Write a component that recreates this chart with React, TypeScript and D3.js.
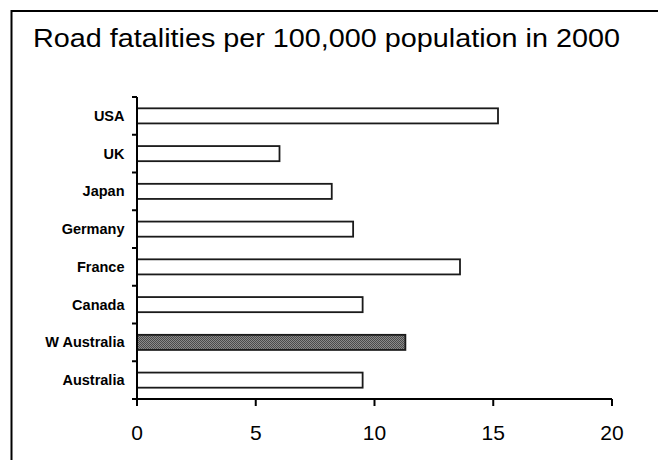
import React from "react";
import * as d3 from "d3";

const categories = ["USA", "UK", "Japan", "Germany", "France", "Canada", "W Australia", "Australia"];
const values = [15.2, 6.0, 8.2, 9.1, 13.6, 9.5, 11.3, 9.5];
const highlighted = ["W Australia"];
const xTicks = [0, 5, 10, 15, 20];
const title = "Road fatalities per 100,000 population in 2000";

const W = 658;
const H = 460;
const left = 137;
const right = 612;
const top = 97;
const bottom = 399;

export default function App() {
  const x = d3.scaleLinear().domain([0, 20]).range([left, right]);
  const y = d3.scaleBand<string>().domain(categories).range([top, bottom]).paddingInner(0.6).paddingOuter(0.3);
  const bandStep = (bottom - top) / categories.length;
  const catTicks = d3.range(categories.length + 1).map((i) => top + i * bandStep);

  return (
    <svg width={W} height={H} style={{ position: "fixed", left: 0, top: 0, background: "#fff" }}
      fontFamily="Arial, 'Liberation Sans', sans-serif">
      <defs>
        <pattern id="dots" width="2" height="2" patternUnits="userSpaceOnUse">
          <rect width="2" height="2" fill="#8a8a8a" />
          <rect width="1" height="1" fill="#4a4a4a" />
          <rect x="1" y="1" width="1" height="1" fill="#4a4a4a" />
        </pattern>
      </defs>
      <rect x={0} y={0} width={W} height={H} fill="#fff" />
      <path d={`M11.5,${H} V11 H${W}`} fill="none" stroke="#000" strokeWidth={2} />
      <text x={33} y={47} fontSize={26} fill="#000" textLength={587} lengthAdjust="spacingAndGlyphs">{title}</text>

      {categories.map((c, i) => (
        <rect key={c} x={x(0)} y={y(c)!} width={x(values[i]) - x(0)} height={y.bandwidth()}
          fill={highlighted.includes(c) ? "url(#dots)" : "#fff"} stroke="#1a1a1a" strokeWidth={1.8} />
      ))}

      {/* y axis */}
      <line x1={left} x2={left} y1={top} y2={bottom} stroke="#000" strokeWidth={2} />
      {catTicks.map((t, i) => (
        <line key={i} x1={left - 5} x2={left} y1={t} y2={t} stroke="#000" strokeWidth={2} />
      ))}
      {categories.map((c) => (
        <text key={c} x={124.5} y={y(c)! + y.bandwidth() / 2} dy="0.35em" textAnchor="end"
          fontSize={14.5} fontWeight="bold" fill="#000">{c}</text>
      ))}

      {/* x axis */}
      <line x1={left} x2={right} y1={bottom} y2={bottom} stroke="#000" strokeWidth={2} />
      {xTicks.map((t) => (
        <g key={t}>
          <line x1={x(t)} x2={x(t)} y1={bottom} y2={bottom + 7} stroke="#000" strokeWidth={2} />
          <text x={x(t)} y={440} textAnchor="middle" fontSize={21} fill="#000">{t}</text>
        </g>
      ))}
    </svg>
  );
}
